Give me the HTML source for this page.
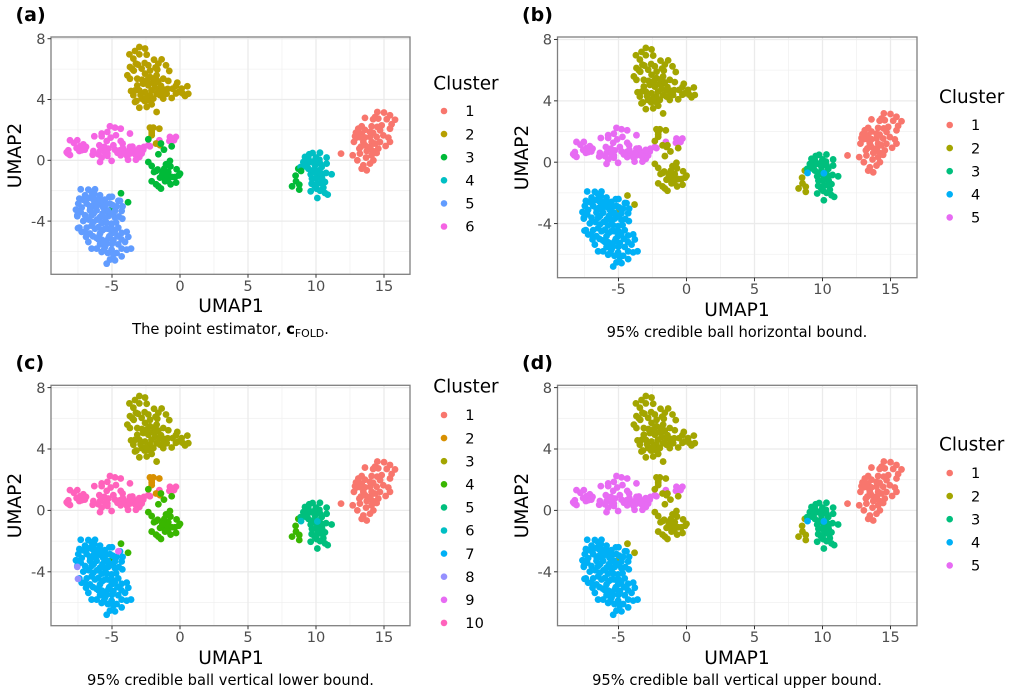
<!DOCTYPE html>
<html lang="en">
<head>
<meta charset="utf-8">
<title>UMAP cluster comparison</title>
<style>
html,body{margin:0;padding:0;background:#fff;width:1013px;height:696px;overflow:hidden}
svg{display:block;font-family:"DejaVu Sans","Liberation Sans",sans-serif}
</style>
</head>
<body>
<svg id="figure" xmlns="http://www.w3.org/2000/svg" width="1013" height="696" viewBox="0 0 1013 696"></svg>
<script>
const xTicks = [-5, 0, 5, 10, 15];
const yTicks = [-4, 0, 4, 8];
const xMinorTicks = [-7.5, -2.5, 2.5, 7.5, 12.5];
const yMinorTicks = [-6, -2, 2, 6];

const pinkPoints = [[-5.15,2.24],[-4.78,2.15],[-4.36,2.08],[-6.3,1.58],[-5.76,1.76],[-5.34,1.86],[-5.76,1.58],[-5.1,1.49],[-4.71,1.65],[-3.68,1.76],[-5.39,1.27],[-4.36,1.27],[-4.22,1.1],[-8.09,1.32],[-7.55,1.32],[-7.8,1.14],[-7.11,1.05],[-7.35,0.92],[-6.91,0.88],[-7.23,0.66],[-7.4,0.61],[-8.21,0.66],[-8.33,0.53],[-8.09,0.35],[-6.37,0.61],[-6.42,0.37],[-5.93,0.99],[-5.56,0.88],[-5.88,0.61],[-5.27,0.77],[-5.34,0.44],[-5.34,0.29],[-4.9,0.99],[-4.78,0.7],[-4.41,0.66],[-4.36,0.33],[-4.04,0.55],[-3.68,0.88],[-3.43,0.7],[-3.68,0.44],[-3.06,0.55],[-2.82,0.44],[-2.99,0.22],[-3.24,0.04],[-3.82,0.04],[-5.03,-0.04],[-5.76,0.18],[-5.88,-0.11],[-2.65,0.88],[-2.33,0.99],[-2.21,0.92],[-1.52,1.32],[-0.74,1.54],[-0.3,1.54],[-0.78,1.27],[-0.44,1.32],[-3.8,0.61],[-7.6,0.8],[-7,0.7],[-6,0.4],[-5.5,0.5],[-4.6,0.5],[-4.2,0.8],[-3.9,0.3],[-3.3,0.4],[-3.5,0.9],[-2.7,0.7],[-3,0.8],[-8.25,0.45]];

const satellitePoints = [[-2.21,2.15],[-1.96,2.15],[-1.52,2.08],[-2.08,1.93],[-2.08,1.65],[-1.76,1.1],[-1.47,0.99],[-2.08,1.8],[-1.03,-0.83]];

const lowerPoints = [[-2.33,1.38],[-1.4,1.1],[-1.18,0.7],[-0.61,0.92],[-1.59,0.4],[-2.33,-0.11],[-2.08,-0.37],[-0.74,-0.04],[-1.03,-0.26],[-1.15,-0.55],[-1.64,-0.61],[-1.91,-0.77],[-0.25,-0.59],[-0.86,-0.77],[0,-0.88],[-0.37,-1.1],[-1.47,-1.14],[-1.15,-1.14],[-1.1,-1.38],[-0.69,-1.58],[-0.29,-1.47],[-2.08,-1.38],[-1.76,-1.58],[-1.59,-1.71],[-1.4,-1.86],[-1.2,-0.72],[-0.95,-1.0],[-4.34,-2.17],[-3.82,-2.76],[-5.02,-3.25],[-1.75,-0.7],[-1.3,-0.9],[-0.7,-0.4],[-0.6,-1.1],[-0.9,-1.35],[-0.1,-1.0]];

const smallTealPoints = [[8.7,-0.55],[8.5,-1.01],[8.53,-1.38],[8.24,-1.71],[8.77,-1.6],[8.77,-1.93]];

const redPoints = [[11.84,0.44],[14.51,3.18],[15,3.14],[15.44,2.96],[15.81,2.67],[15.56,2.37],[15.44,2.08],[13.6,2.79],[14.34,2.85],[14.58,2.74],[14.83,2.3],[14.09,2.24],[13.36,2.24],[13.11,2.08],[12.94,1.82],[13.36,1.75],[13.97,1.86],[14.71,1.97],[12.87,1.58],[13.97,1.54],[14.46,1.54],[14.95,1.64],[15.32,1.49],[12.79,1.21],[13.48,1.21],[14.09,1.21],[15.44,1.21],[13.92,0.77],[13.19,0.77],[14.58,0.77],[15.12,0.94],[13.23,0.44],[13.73,0.61],[14.46,0.48],[12.7,0.33],[13.04,0],[14.09,0.33],[13.68,0.18],[13.97,-0.22],[14.22,0],[13.48,-0.33],[13.36,-0.55],[13.73,-0.66],[13.6,1.0],[14.34,1.1],[13.3,1.5],[14.2,1.8],[14.0,0.9],[13.1,1.8],[13.6,2.0],[14.5,2.2],[13.6,1.5],[14.7,1.2],[13.3,0.9],[14.2,0.6],[13,1.5],[15.2,2.7],[14.2,2.7]];

const tealPoints = [[9.75,0.48],[10.29,0.5],[9.19,0.22],[9.44,0.11],[10,0.18],[10.78,0.18],[10.25,0.04],[9.07,-0.11],[9.68,-0.11],[10.78,-0.22],[8.87,-0.44],[9.44,-0.55],[9.93,-0.33],[10.42,-0.44],[9.61,-0.92],[10.05,-0.88],[10.74,-0.83],[11.15,-0.92],[10.29,-1.14],[9.68,-1.54],[10.1,-1.54],[10.66,-1.43],[9.61,-2.04],[10.05,-1.87],[10.54,-1.8],[10.66,-2.15],[10.86,-2.26],[10.1,-2.48],[9.8,-0.66],[10.25,-0.66],[9.95,0.05],[10.45,-1.2],[10.0,-1.2],[9.4,-0.2],[9.9,-0.1],[10.3,-0.2],[9.7,-1.2],[9.9,-1.7],[10.4,-1.5],[10.3,-2],[9.5,0.4],[10.5,-0.9],[9.2,-0.4]];

const bridgeGreenPoints = [[8.9,-0.7]];
const bridgeTealPoints = [[10.1,-0.72]];

const bluePoints = [[-7.3,-1.91],[-6.74,-1.93],[-6.25,-1.91],[-6.5,-2.08],[-6.98,-2.3],[-7.4,-2.52],[-6.62,-2.46],[-5.88,-2.3],[-5.2,-2.41],[-6.13,-2.59],[-5.52,-2.59],[-4.41,-2.67],[-7.48,-2.85],[-7.65,-3.25],[-6.86,-2.85],[-6.42,-2.96],[-5.76,-2.96],[-5.15,-2.85],[-4.66,-3.03],[-4.22,-3.03],[-7.23,-3.11],[-6.13,-3.29],[-5.52,-3.33],[-4.78,-3.33],[-4.29,-3.33],[-7.55,-3.62],[-6.98,-3.62],[-6.5,-3.62],[-5.88,-3.73],[-5.27,-3.68],[-4.78,-3.77],[-4.24,-3.84],[-7.11,-3.99],[-6.37,-4.06],[-5.76,-4.12],[-5.03,-4.17],[-7.4,-4.43],[-6.86,-4.43],[-6.25,-4.5],[-5.52,-4.5],[-4.54,-4.43],[-7.23,-4.71],[-6.62,-4.82],[-5.88,-4.82],[-5.03,-4.82],[-4.29,-4.78],[-3.92,-4.71],[-6.91,-5.04],[-6.74,-5.37],[-5.76,-5.22],[-5.27,-5.15],[-4.9,-5.26],[-3.8,-5.04],[-4.04,-5.37],[-4.54,-5.53],[-5.88,-5.53],[-6.5,-5.81],[-6.13,-5.81],[-5.52,-5.7],[-5.03,-5.88],[-4.29,-5.81],[-3.6,-5.81],[-3.92,-5.88],[-5.76,-6.03],[-4.66,-6.1],[-4.29,-6.32],[-5.15,-6.53],[-4.78,-6.58],[-5.39,-6.8],[-6.2,-3.1],[-5.3,-3.3],[-4.95,-3.55],[-4.95,-2.95],[-6,-4.4],[-5.4,-4.1],[-5.2,-5],[-5.6,-5.3],[-6.4,-5],[-6.7,-3.9],[-5,-2.4],[-6.3,-2.2],[-7.1,-2.6],[-5.7,-3.5],[-6.1,-3.9],[-5.5,-3.8],[-6.6,-3.1],[-6.62,-3.29],[-6.13,-2.85],[-5.64,-3.11],[-6.9,-2.55],[-6.4,-2.55],[-5.8,-2.65],[-5.45,-2.9],[-5.1,-3.5],[-7,-4.7],[-6.5,-4.3],[-5.3,-4.5],[-5,-4.5],[-4.7,-4.1],[-4.5,-3.7],[-6.15,-5.1],[-5.4,-5.5],[-5,-5.5],[-4.6,-5],[-4.3,-5.2],[-5.6,-5.9],[-5.3,-6.1],[-4.9,-6.2],[-6.35,-3.5],[-7.3,-3.4],[-5.7,-4.6],[-6,-5.2],[-4.8,-4.7]];

const violetOutlierPoints = [[-7.55,-3.68],[-7.5,-4.46]];
const magentaOutlierPoints = [[-4.53,-2.66]];

const upperPoints = [[-2.99,7.45],[-2.57,7.35],[-2.45,6.95],[-3.31,7.19],[-3.72,6.97],[-2.99,6.97],[-3.43,6.69],[-3.68,6.14],[-3.24,6.36],[-2.82,6.03],[-2.33,6.25],[-1.91,6.62],[-1.35,6.64],[-1.03,6.25],[-1.59,6.36],[-1.67,5.97],[-0.79,5.88],[-3.87,5.59],[-3.68,5.37],[-3.14,5.37],[-2.57,5.7],[-2.21,5.48],[-1.72,5.59],[-1.23,5.37],[-0.86,5.22],[-0.2,5.11],[0.54,4.87],[0.12,4.71],[0.61,4.38],[0.37,4.23],[-0.12,4.49],[-0.54,4.71],[-1.1,4.65],[-1.72,5.15],[-1.84,4.78],[-3.14,4.93],[-2.7,5.04],[-2.33,4.93],[-3.6,4.56],[-2.99,4.6],[-2.57,4.49],[-3.43,4.28],[-2.21,4.28],[-1.72,4.38],[-1.23,4.06],[-0.61,4.1],[-3.31,3.84],[-2.99,3.46],[-2.45,3.51],[-2.08,3.68],[-1.72,3.18],[-2.82,4.06],[-2.33,3.95],[-1.47,4.28],[-0.98,4.38],[-1.96,4.06],[-3.4,5.9],[-2.6,6.4],[-2,5.1],[-2.9,4.3],[-2.6,3.9],[-1.5,4.7],[-1.8,6.1],[-3.1,6.3],[-2.4,5.3],[-2.8,5.3],[-2.1,4.6],[-2.5,4.1],[-0.3,4.4],[-3.2,3.9],[-3.5,6],[-2.2,5.9],[-1.9,5.4],[-1.6,5.2],[-1.4,4.9],[-0.9,4.7],[-0.3,4.9],[0.2,4.4],[-1.2,4.4],[-3.3,4.6]];

const legendCounts = [6, 5, 10, 5];

const clustersPink = [6, 5, 10, 5];
const clustersSatellite = [2, 2, 2, 2];
const clustersLower = [3, 2, 4, 2];
const clustersSmallTeal = [3, 2, 4, 2];
const clustersRed = [1, 1, 1, 1];
const clustersTeal = [4, 3, 5, 3];
const clustersBridgeGreen = [3, 4, 6, 4];
const clustersBridgeTeal = [4, 4, 6, 4];
const clustersBlue = [5, 4, 7, 4];
const clustersViolet = [5, 4, 8, 4];
const clustersMagenta = [5, 4, 9, 4];
const clustersUpper = [2, 2, 3, 2];

const palette6 = ['#F8766D','#B79F00','#00BA38','#00BFC4','#619CFF','#F564E3'];
const palette5 = ['#F8766D','#A3A500','#00BF7D','#00B0F6','#E76BF3'];
const palette10 = ['#F8766D','#D89000','#A3A500','#39B600','#00BF7D','#00BFC4','#00B0F6','#9590FF','#E76BF3','#FF62BC'];

const groups = [
  {name:'pink', pts:pinkPoints, cl:clustersPink},
  {name:'satellite', pts:satellitePoints, cl:clustersSatellite},
  {name:'lower', pts:lowerPoints, cl:clustersLower},
  {name:'small-teal', pts:smallTealPoints, cl:clustersSmallTeal},
  {name:'red', pts:redPoints, cl:clustersRed},
  {name:'teal', pts:tealPoints, cl:clustersTeal},
  {name:'bridge-green', pts:bridgeGreenPoints, cl:clustersBridgeGreen},
  {name:'bridge-teal', pts:bridgeTealPoints, cl:clustersBridgeTeal},
  {name:'blue', pts:bluePoints, cl:clustersBlue},
  {name:'violet', pts:violetOutlierPoints, cl:clustersViolet},
  {name:'magenta', pts:magentaOutlierPoints, cl:clustersMagenta},
  {name:'upper', pts:upperPoints, cl:clustersUpper}
];

const layouts = [
  {id:'a', tag:'(a)', tagX:15.5, tagY:21, left:51, right:410, top:37, bottom:274.3, x0:180, kx:13.6, y0:160.3, ky:15.2, legX:433.3, legTitleY:89.3, legRow0:111, titleXY:[231,312], ylabY:155.5, ylabX:21, caption:null, capX:230.5, capY:334, palette:palette6},
  {id:'b', tag:'(b)', tagX:522, tagY:21, left:557.5, right:917, top:37, bottom:277.7, x0:686.5, kx:13.6, y0:162.2, ky:15.34, legX:939, legTitleY:103, legRow0:125, titleXY:[737,316], ylabY:157.5, ylabX:528, caption:'95% credible ball horizontal bound.', capX:737, capY:337, palette:palette5},
  {id:'c', tag:'(c)', tagX:15.5, tagY:369, left:51, right:410, top:385.3, bottom:625.7, x0:180, kx:13.6, y0:510.4, ky:15.35, legX:433.3, legTitleY:392.7, legRow0:415, titleXY:[231,664], ylabY:505.5, ylabX:21, caption:'95% credible ball vertical lower bound.', capX:230.5, capY:685, palette:palette10},
  {id:'d', tag:'(d)', tagX:522, tagY:369, left:557.5, right:917, top:385.3, bottom:625.7, x0:686.5, kx:13.6, y0:510.4, ky:15.35, legX:939, legTitleY:450.7, legRow0:473, titleXY:[737,664], ylabY:505.5, ylabX:528, caption:'95% credible ball vertical upper bound.', capX:737, capY:685, palette:palette5}
];

const NS = 'http://www.w3.org/2000/svg';
const svg = document.getElementById('figure');

function make(parent, tag, attrs, txt) {
  const el = document.createElementNS(NS, tag);
  for (const k in attrs) el.setAttribute(k, attrs[k]);
  if (txt !== undefined) el.textContent = txt;
  parent.appendChild(el);
  return el;
}
function xScale(L, v) { return L.x0 + v * L.kx; }
function yScale(L, v) { return L.y0 - v * L.ky; }

layouts.forEach(function (L, pi) {
  const g = make(svg, 'g', {});
  
  

  const tag = make(g, 'text', {x:L.tagX, y:L.tagY, 'font-size':19, 'font-weight':'bold', fill:'#000'}, L.tag);
  
  

  const bg = make(g, 'rect', {x:L.left, y:L.top, width:L.right-L.left, height:L.bottom-L.top, fill:'#fff'});
  
  

  xMinorTicks.forEach(function (v) {
    const l = make(g, 'line', {x1:xScale(L,v), x2:xScale(L,v), y1:L.top, y2:L.bottom, stroke:'#f1f1f1', 'stroke-width':0.8});
    
    
  });
  yMinorTicks.forEach(function (v) {
    const l = make(g, 'line', {x1:L.left, x2:L.right, y1:yScale(L,v), y2:yScale(L,v), stroke:'#f1f1f1', 'stroke-width':0.8});
    
    
  });
  xTicks.forEach(function (v) {
    const l = make(g, 'line', {x1:xScale(L,v), x2:xScale(L,v), y1:L.top, y2:L.bottom, stroke:'#ebebeb', 'stroke-width':1.3});
    
    
  });
  yTicks.forEach(function (v) {
    const l = make(g, 'line', {x1:L.left, x2:L.right, y1:yScale(L,v), y2:yScale(L,v), stroke:'#ebebeb', 'stroke-width':1.3});
    
    
  });

  groups.forEach(function (grp) {
    const color = L.palette[grp.cl[pi] - 1];
    grp.pts.forEach(function (p) {
      const c = make(g, 'circle', {cx:xScale(L,p[0]), cy:yScale(L,p[1]), r:3.4, fill:color});
      
      
    });
  });

  const border = make(g, 'rect', {x:L.left, y:L.top, width:L.right-L.left, height:L.bottom-L.top, fill:'none', stroke:'#7f7f7f', 'stroke-width':1.3});
  
  

  xTicks.forEach(function (v) {
    const x = xScale(L,v);
    const t = make(g, 'line', {x1:x, x2:x, y1:L.bottom, y2:L.bottom+3.5, stroke:'#333', 'stroke-width':1});
    
    
    const lb = make(g, 'text', {x:x, y:L.bottom+16.5, 'font-size':14.6, fill:'#4d4d4d', 'text-anchor':'middle'}, String(v));
    
    
  });
  yTicks.forEach(function (v) {
    const y = yScale(L,v);
    const t = make(g, 'line', {x1:L.left-3.5, x2:L.left, y1:y, y2:y, stroke:'#333', 'stroke-width':1});
    
    
    const lb = make(g, 'text', {x:L.left-5.5, y:y+5.2, 'font-size':14.6, fill:'#4d4d4d', 'text-anchor':'end'}, String(v));
    
    
  });

  const xt = make(g, 'text', {x:L.titleXY[0], y:L.titleXY[1], 'font-size':18.6, fill:'#000', 'text-anchor':'middle'}, 'UMAP1');
  
  
  const yt = make(g, 'text', {x:L.ylabX, y:L.ylabY, 'font-size':18.6, fill:'#000', 'text-anchor':'middle', transform:'rotate(-90 ' + L.ylabX + ' ' + L.ylabY + ')'}, 'UMAP2');
  
  

  const cap = make(g, 'text', {x:L.capX, y:L.capY, 'font-size':14.7, fill:'#000', 'text-anchor':'middle'});
  
  
  if (L.caption) {
    cap.textContent = L.caption;
  } else {
    make(cap, 'tspan', {}, 'The point estimator, ');
    make(cap, 'tspan', {'font-weight':'bold'}, 'c');
    make(cap, 'tspan', {'font-size':10.9, dy:3}, 'FOLD');
    make(cap, 'tspan', {dy:-3}, '.');
  }

  const lt = make(g, 'text', {x:L.legX, y:L.legTitleY, 'font-size':18.4, fill:'#000'}, 'Cluster');
  
  
  for (let i = 0; i < legendCounts[pi]; i++) {
    const y = L.legRow0 + i * 23.1;
    const d = make(g, 'circle', {cx:L.legX+10.7, cy:y, r:3.3, fill:L.palette[i]});
    
    
    const tx = make(g, 'text', {x:L.legX+32, y:y+5.2, 'font-size':14.6, fill:'#000'}, String(i + 1));
    
    
  }
});
</script>
</body>
</html>
